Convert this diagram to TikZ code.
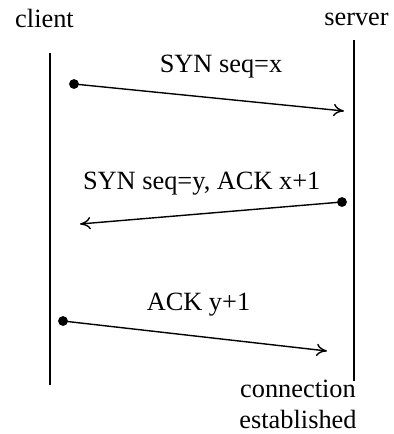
\documentclass[tikz,border=0pt]{standalone}
\usepackage{fontspec}
\setmainfont{Liberation Serif}
\usetikzlibrary{arrows.meta, positioning}

\begin{document}
\begin{tikzpicture}[
      x=0.02cm, y=-0.02cm,
      every node/.style={font=\fontsize{15}{17.6}\selectfont, inner sep=0pt},
      host/.style={anchor=base},
      msg/.style={anchor=base},
      dot/.style={circle, fill=black, minimum size=5.6pt, inner sep=0pt},
      lifeline/.style={line width=0.8pt},
      packet/.style={line width=0.8pt, -{To[length=6pt, width=7pt]}, shorten <=-1pt}
    ]
      \useasboundingbox (0,0) rectangle (394,434);

      % hosts and their lifelines
      \node[host] (client) at (44.5,27) {client};
      \node[host] (server) at (356.5,25) {server};
      \coordinate (ctop) at (50,53);
      \coordinate (cbot) at (50,385);
      \coordinate (stop) at (354,40);
      \coordinate (sbot) at (354,381);
      \draw[lifeline] (ctop) -- (cbot);
      \draw[lifeline] (stop) -- (sbot);

      % handshake
      \node[dot] (syn) at (74,84) {};
      \coordinate (synend) at (344,111);
      \draw[packet] (syn) -- (synend);
      \node[msg] (synlabel) at (221,72.7) {SYN seq=x};

      \node[dot] (synack) at (342,202) {};
      \coordinate (synackend) at (80,224);
      \draw[packet] (synack) -- (synackend);
      \node[msg] (synacklabel) at (201.7,189.3) {SYN seq=y, ACK x+1};

      \node[dot] (ack) at (63,321) {};
      \coordinate (ackend) at (327,351);
      \draw[packet] (ack) -- (ackend);
      \node[msg] (acklabel) at (198.5,310.7) {ACK y+1};

      \node[anchor=base, align=center] (est) at (298,428.3) {connection\\established};

    \end{tikzpicture}
\end{document}
